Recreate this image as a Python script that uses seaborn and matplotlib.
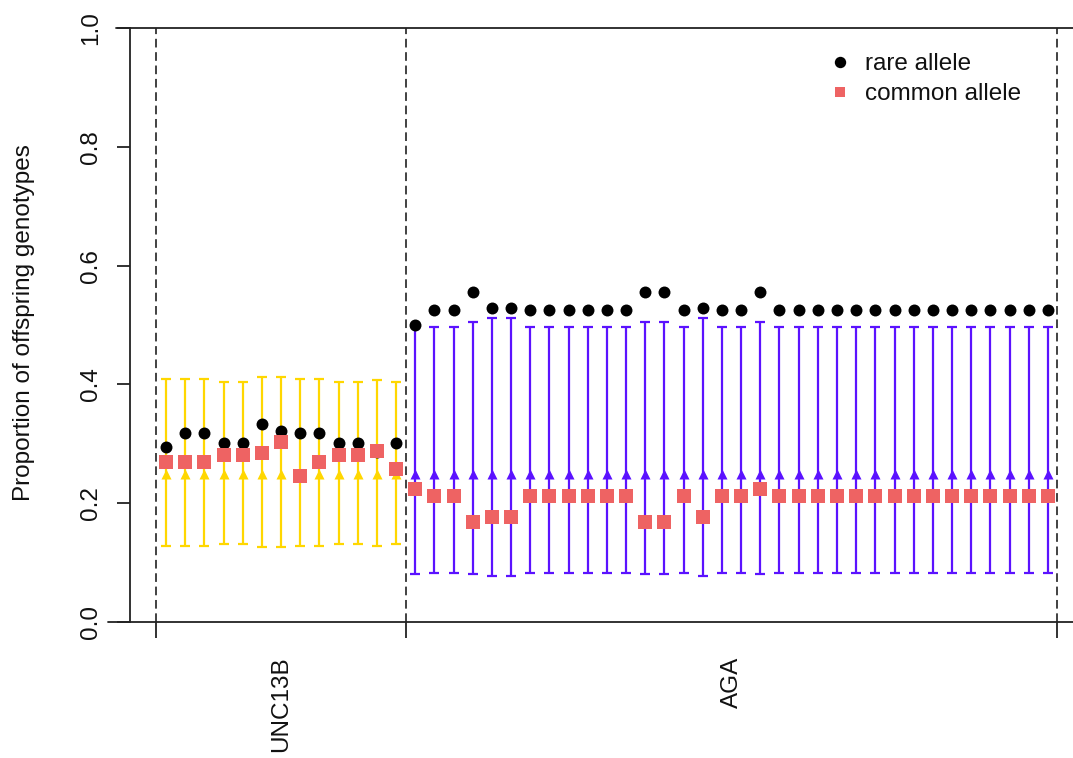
import numpy as np
import pandas as pd
import matplotlib
matplotlib.use("Agg")
import matplotlib.pyplot as plt
import seaborn as sns
from matplotlib.lines import Line2D

# ---------------- data ----------------
gene_labels = ["UNC13B", "AGA"]
gene_counts = [13, 34]
bar_colors = ["#FFD700", "#5B12FF"]
expected_prop = 0.25

rare_unc13b = [0.294, 0.318, 0.318, 0.302, 0.302, 0.333, 0.322, 0.318, 0.318,
               0.302, 0.302, 0.286, 0.302]
common_unc13b = [0.269, 0.269, 0.269, 0.281, 0.281, 0.284, 0.303, 0.246, 0.269,
                 0.281, 0.281, 0.288, 0.258]
upper_unc13b = [0.409, 0.409, 0.409, 0.404, 0.404, 0.413, 0.413, 0.409, 0.409,
                0.404, 0.404, 0.407, 0.404]
lower_unc13b = [0.128, 0.128, 0.128, 0.131, 0.131, 0.126, 0.126, 0.128, 0.128,
                0.131, 0.131, 0.128, 0.131]

rare_aga = [0.500, 0.526, 0.526, 0.556, 0.529, 0.529, 0.526, 0.526, 0.526,
            0.526, 0.526, 0.526, 0.556, 0.556, 0.526, 0.529, 0.526, 0.526,
            0.556, 0.526, 0.526, 0.526, 0.526, 0.526, 0.526, 0.526, 0.526,
            0.526, 0.526, 0.526, 0.526, 0.526, 0.526, 0.526]
common_aga = [0.224, 0.212, 0.212, 0.168, 0.177, 0.177, 0.212, 0.212, 0.212,
              0.212, 0.212, 0.212, 0.168, 0.168, 0.212, 0.177, 0.212, 0.212,
              0.224, 0.212, 0.212, 0.212, 0.212, 0.212, 0.212, 0.212, 0.212,
              0.212, 0.212, 0.212, 0.212, 0.212, 0.212, 0.212]
upper_aga = [0.499, 0.496, 0.496, 0.505, 0.512, 0.512, 0.496, 0.496, 0.496,
             0.496, 0.496, 0.496, 0.505, 0.505, 0.496, 0.512, 0.496, 0.496,
             0.505, 0.496, 0.496, 0.496, 0.496, 0.496, 0.496, 0.496, 0.496,
             0.496, 0.496, 0.496, 0.496, 0.496, 0.496, 0.496]
lower_aga = [0.080, 0.082, 0.082, 0.080, 0.077, 0.077, 0.082, 0.082, 0.082,
             0.082, 0.082, 0.082, 0.080, 0.080, 0.082, 0.077, 0.082, 0.082,
             0.080, 0.082, 0.082, 0.082, 0.082, 0.082, 0.082, 0.082, 0.082,
             0.082, 0.082, 0.082, 0.082, 0.082, 0.082, 0.082]

y_ticks = [0.0, 0.2, 0.4, 0.6, 0.8, 1.0]
y_label = "Proportion of offspring genotypes"
legend_labels = ["rare allele", "common allele"]

# ---------------- build table ----------------
rare_all = rare_unc13b + rare_aga
common_all = common_unc13b + common_aga
upper_all = upper_unc13b + upper_aga
lower_all = lower_unc13b + lower_aga
gene_all = sum([[g] * n for g, n in zip(gene_labels, gene_counts)], [])
df = pd.DataFrame({
    "pos": np.arange(1, len(rare_all) + 1),
    "gene": gene_all,
    "rare": rare_all,
    "common": common_all,
    "upper": upper_all,
    "lower": lower_all,
})
df["expected"] = expected_prop

# ---------------- figure ----------------
sns.set_theme(style="white")
plt.rcParams["font.family"] = ["Liberation Sans", "DejaVu Sans"]

W, H = 1073, 758
fig = plt.figure(figsize=(W / 100, H / 100), dpi=100)
ax = fig.add_axes([108 / W, (H - 622) / H, (W - 108) / W, (622 - 28) / H])
ax.set_facecolor("white")

axis_col = "#222222"
text_col = "#111111"
FS = 17.5

# error bars with expected-value triangles
for gene, col in zip(gene_labels, bar_colors):
    d = df[df["gene"] == gene]
    ax.errorbar(d["pos"], d["expected"],
                yerr=[d["expected"] - d["lower"], d["upper"] - d["expected"]],
                fmt="none", ecolor=col, elinewidth=1.6, capsize=3.9,
                capthick=1.6, zorder=2)
    sns.scatterplot(data=d, x="pos", y="expected", marker="^", color=col,
                    s=52, linewidth=0, ax=ax, zorder=3, legend=False)

sns.scatterplot(data=df, x="pos", y="rare", marker="o", color="black",
                s=74, linewidth=0, ax=ax, zorder=4, legend=False)
sns.scatterplot(data=df, x="pos", y="common", marker="s", color="#EE6363",
                s=90, linewidth=0, ax=ax, zorder=5, legend=False)

# group boundaries
bounds = np.concatenate([[0.5], 0.5 + np.cumsum(gene_counts)])
centers = (bounds[:-1] + bounds[1:]) / 2
for b in bounds:
    ax.plot([b, b], [0, 1], color="#333333", lw=1.3, ls=(0, (4.8, 2.6)),
            zorder=1)

ax.set_xlim(-2.026, 48.31)
ax.set_ylim(0, 1)

for s in ["top", "right", "bottom"]:
    ax.spines[s].set_visible(False)
ax.spines["left"].set_position(("data", -0.878))
ax.spines["left"].set_bounds(0, 1)
ax.spines["left"].set_color(axis_col)
ax.spines["left"].set_linewidth(1.3)

ax.axhline(0, color=axis_col, lw=1.3, zorder=1, clip_on=False)
ax.axhline(1, xmin=8 / (W - 108), color=axis_col, lw=1.3, zorder=1,
           clip_on=False)

ax.set_yticks(y_ticks)
ax.set_yticklabels([f"{v:.1f}" for v in y_ticks], rotation=90, va="center")
ax.tick_params(axis="y", direction="out", length=9.4, width=1.3,
               color=axis_col, labelsize=FS, pad=10.5, left=True,
               labelcolor=text_col)

ax.set_xticks(bounds)
ax.set_xticklabels([])
ax.set_xticks(centers, minor=True)
ax.set_xticklabels(gene_labels, minor=True, rotation=90, va="top",
                   ha="center")
ax.tick_params(axis="x", which="major", direction="out", length=11.5,
               width=1.3, color=axis_col, bottom=True)
ax.tick_params(axis="x", which="minor", length=0, labelsize=FS, pad=25,
               bottom=True, labelcolor=text_col)
ax.set_xlabel("")
ax.set_ylabel("")

fig.text(24 / W, 1 - 323 / H, y_label, rotation=90, ha="center",
         va="center", fontsize=FS, color=text_col)

handles = [
    Line2D([], [], marker="o", color="black", ls="none", markersize=8.2,
           markeredgewidth=0),
    Line2D([], [], marker="s", color="#EE6363", ls="none", markersize=7.8,
           markeredgewidth=0),
]
leg = fig.legend(handles, legend_labels, loc="upper left",
                 bbox_to_anchor=(828 / W, 1 - 53 / H), frameon=False,
                 fontsize=FS, handlelength=1.0, handletextpad=0.54,
                 borderpad=0, borderaxespad=0, labelspacing=0.34)
for t in leg.get_texts():
    t.set_color(text_col)

fig.savefig("out.png", dpi=100)
